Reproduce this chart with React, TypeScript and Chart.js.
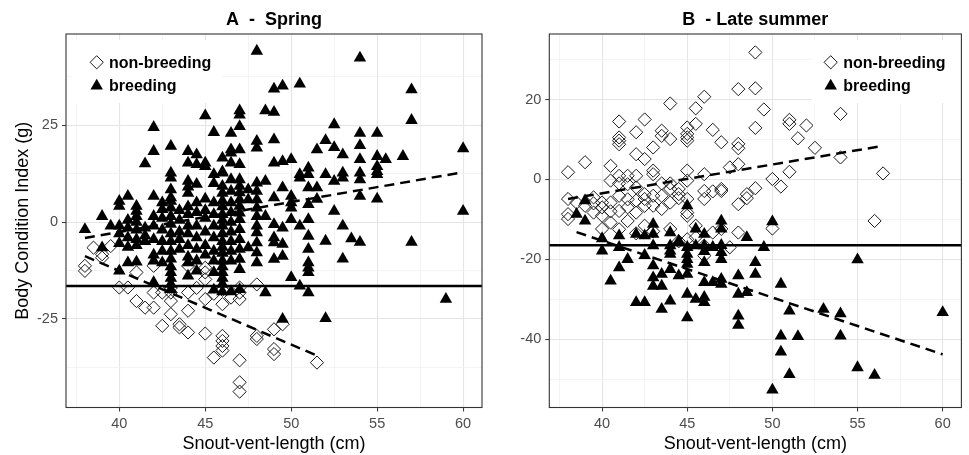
import React, { useEffect, useRef } from 'react';
import { Chart, registerables } from 'chart.js';

Chart.register(...registerables);

const FONT = '"Liberation Sans", Arial, Helvetica, sans-serif';
const H = 455;

// ---------------- data ----------------
const panelTitles = ['A  -  Spring', 'B  - Late summer'];
const legendLabels = ['non-breeding', 'breeding'];
const xTitle = 'Snout-vent-length (cm)';
const yTitle = 'Body Condition Index (g)';

const xMajorTicks = [40, 45, 50, 55, 60];
const springYMajorTicks = [-25, 0, 25];
const summerYMajorTicks = [-40, -20, 0, 20];
const xRange = [36.9, 61.1];
const springYRange = [-47.9, 48.6];
const summerYRange = [-57.1, 36.4];
const thresholdValue = -16.5;

const springNonBreeding: [number, number][] = [
  [38, -11.3], [38, -12.6], [38.5, -6.6], [39, -8.3], [39, -9.2], [39.5, -6.2], [40, -16.9], [40.5, -16.9],
  [41, -13.0], [41, -20.4], [41.5, -22.1], [42, -11.3], [42, -18.2], [42, -22.1], [42.5, -18.2], [42.5, -26.8],
  [43, -18.2], [43, -20.4], [43, -23.8], [43.5, -26.4], [43.5, -27.2], [44, -11.3], [44, -18.2], [44, -22.9],
  [44, -28.5], [45, -11.8], [45, -13.0], [45, -14.8], [45, -19.9], [45, -28.8], [45.5, -35.0], [46, -21.2],
  [46, -29.4], [46, -30.7], [46, -32.0], [46, -33.2], [46.5, -19.5], [47, -16.9], [47, -18.2], [47, -19.9],
  [47, -35.7], [47, -41.4], [47, -43.8], [48, -16.1], [48, -29.4], [48, -30.2], [49, -27.7], [49, -32.8],
  [49, -34.1], [49.5, -26.4], [51.5, -36.3], [43, -17], [44.5, -17], [45.5, -18.5], [46, -17.5],
];

const springBreeding: [number, number][] = [
  [48, 44.2], [54, 42.4], [49, 34.4], [49.5, 35.2], [50.5, 35.7], [57, 34.2], [57, 26.3], [48.5, 28.8],
  [49, 28.4], [47, 28.8], [47, 27.7], [45, 27.5], [47, 24.7], [42, 24.5], [45.5, 23.2], [46.5, 23.0],
  [52.5, 25.2], [54, 23.0], [54, 19.8], [55, 23.0], [48, 20.9], [48, 19.2], [49, 21.3], [52, 21.1],
  [52.5, 19.3], [53, 17.4], [60, 19.0], [60, 2.8], [43, 19.6], [42, 18.3], [41.5, 15.1], [44, 18.3],
  [44.5, 17.4], [44, 15.3], [44.5, 14.9], [45, 15.3], [46.5, 18.7], [47, 18.7], [46.5, 17.9], [46, 16.6],
  [46.5, 15.3], [47, 14.9], [51.5, 18.7], [56.5, 17.0], [55.5, 16.2], [54, 16.2], [54, 12.7], [55, 17.0],
  [55, 14.4], [55, 13.1], [55, 12.3], [55, 6.0], [50, 16.2], [49.5, 15.7], [49, 15.3], [51, 14.0],
  [51, 12.3], [50.5, 12.3], [50.5, 11.4], [52, 12.3], [52.5, 10.6], [53, 12.7], [53, 11.4], [54, 11.0],
  [51.5, 8.9], [51, 8.9], [49.5, 8.9], [49, 6.3], [50, 6.7], [50, 5.0], [50, 3.7], [51, 4.6],
  [51.5, 5.9], [52.5, 2.8], [54, 6.7], [51, 0.7], [50, 0.7], [50.5, -1.0], [49, -0.6], [49.5, -1.5],
  [53, -1.0], [52, -4.9], [53.5, -4.3], [54, -5.2], [57, -5.2], [53, -9.5], [50, -14.3], [50.5, -16.5],
  [51, -18.2], [51, -3.6], [51, -7.0], [51, -10.5], [51, -11.8], [51, -13.0], [49, -4.0], [49, -5.3],
  [49.5, -5.7], [49, -9.6], [49.5, -8.8], [48.5, 1.5], [48.5, -18.2], [52, -24.9], [49.5, -25.1], [59, -19.9],
  [45, 14.4], [45.5, 12.3], [46, 12.7], [46.5, 11.0], [47, 11.0], [48, 10.1], [48.5, 10.6], [43, 12.7],
  [43, 11.4], [43, 8.4], [43, 6.3], [42, 6.7], [44, 10.6], [44.5, 9.8], [44, 9.1], [44, 7.5],
  [46, 9.3], [47, 9.3], [47.5, 8.4],
  [40, 5.4], [40.5, 6.7], [40, 4.1], [41, 4.1], [41, 2.8], [41, 1.5], [42.5, 5.0], [42.5, 3.3],
  [43, 5.4], [43, 3.7], [39, 1.5], [38, -1.9], [39.5, -1.0], [40, -1.0], [39, -6.6], [40.5, -10.5],
  [40, -12.6], [42, -15.6], [44, -13.9], [44.5, -12.6],
  [40, -3], [40, -5.5], [40.5, -1.5], [40.5, -4], [40.5, -6.5], [40.5, 0.5], [41, 0], [41, -2],
  [41, -4.5], [41, -6], [41, -10.3], [41.5, -1.5], [41.5, -3.5], [41.5, -5], [42, 1.5], [42, -1],
  [42, -4.5], [42, -8.5], [42, -10], [42.5, 1], [42.5, -2], [42.5, -5], [42.5, -7.5], [42.5, -10.5],
  [43, 1.5], [43, -0.5], [43, -3], [43, -5], [43, -7.5], [43, -9.5], [43, -11.5], [43, -13],
  [43, -14.5], [43, -16], [43, -17.4], [43.5, 3], [43.5, 0.5], [43.5, -2.5], [43.5, -4.5], [43.5, -7],
  [44, 4], [44, 2], [44, -1], [44, -3], [44, -6], [44, -9], [44, -10.5], [44.5, 5],
  [44.5, 2.5], [44.5, -1], [44.5, -4], [44.5, -7], [44.5, -10], [45, 6], [45, 3], [45, 1],
  [45, -2.5], [45, -6], [45, -8.5], [45.5, 10], [45.5, 5], [45.5, 2], [45.5, -1], [45.5, -4],
  [45.5, -7.5], [45.5, -10], [45.5, -13], [45.5, -17.5], [46, 13], [46, 7.5], [46, 5.5], [46, 4],
  [46, 2], [46, 0.5], [46, -1], [46, -3], [46, -5], [46, -6.5], [46, -8], [46, -10],
  [46, -11.5], [46, -13], [46, -14.5], [46, -16], [46, -18], [46.5, 8], [46.5, 5], [46.5, 2.5],
  [46.5, 0], [46.5, -2.5], [46.5, -5], [46.5, -7.5], [46.5, -10], [46.5, -18], [47, 7.6], [47, 5.8],
  [47, 4.1], [47, 2.4], [47, 0.7], [47, -1.9], [47, -4.5], [47, -7.0], [47, -9.6], [47, -12.2],
  [47, -17.4], [47.5, 5.8], [47.5, -6.6], [48, 8.0], [48, 5.8], [48, 3.7], [48, 1.5], [48, -1.0],
  [48, -2.7], [48, -5.3], [48, -7.9], [48, -10.5],
];

const springNonBreedingFit: [number, number][] = [[38, -8.8], [51.5, -34.5]];
const springBreedingFit: [number, number][] = [[38, -4.1], [60, 12.9]];

const summerNonBreeding: [number, number][] = [
  [49, 31.8], [48, 22.6], [49, 22.8], [46, 20.7], [44, 19.0], [45.5, 17.8], [45.5, 13.9], [49.5, 17.5],
  [54, 16.4], [41, 14.5], [42.5, 15.0], [42, 11.8], [43.5, 12.2], [43.5, 10.9], [44, 10.1], [45, 13.0],
  [45, 11.4], [45, 10.5], [45, 9.7], [46.5, 12.4], [41, 10.5], [41, 9.7], [41, 8.8], [43, 8.0],
  [47, 9.3], [48, 8.9], [48, 7.8], [49, 12.9], [51, 14.9], [51, 13.9], [51.5, 10.3], [52, 13.5],
  [52.5, 7.9], [54, 5.5], [56.5, 1.5], [56, -10.4], [51, 1.9], [50, 0.1], [50.5, -1.8], [50, -12.3],
  [49, -2.2], [48.5, -3.7], [48.5, -4.7], [48, 3.8], [48, -6.2], [48, -13.3], [47.5, 3.0], [47, -2.4],
  [47, -2.9], [47.5, -17.0], [46, 1.3], [46, -2.9], [46, -4.9], [46.5, -13.3], [45, 2.2], [45, -0.3],
  [45, -4.9], [45, -8.3], [45, -9.1], [45, -15.0], [44.5, -2.4], [44.5, -3.7], [44.5, -4.7], [44, -2.4],
  [44, -5.8], [44, -12.4], [43.5, -4.1], [43.5, -7.4], [43, 2.2], [43, 1.3], [43, -4.1], [43, -6.6],
  [42.5, 5.1], [42.5, -3.7], [42.5, -4.9], [42.5, -6.6], [42.5, -11.6], [42, 6.3], [42, 0.9], [42, -5.3],
  [42, -8.3], [41.5, 0.9], [41.5, -1.2], [41.5, -7.0], [41.5, -10.4], [41, 0.9], [41, -4.1], [41, -7.9],
  [40.5, 3.4], [40.5, -0.3], [40.5, -5.8], [40.5, -10.8], [40, -5.8], [40, -9.1], [40, -12.4], [39.5, -4.5],
  [39.5, -8.3], [39, 4.3], [39, -6.6], [38.5, -5.8], [38, 1.8], [38, -4.9], [38, -8.7], [38, -9.9],
  [45.5, -11.6], [45.5, -14.5], [46, -16.6], [46, -19.1], [47, -12.4], [41, -12.5], [40, -7.0], [39.5, -6],
  [41.5, -5], [42, -2], [43.5, -1], [44, -1], [46.5, -3], [41, -1], [40.5, -8], [42, -13.5],
  [43, -13], [44.5, -15.5],
];

const summerBreeding: [number, number][] = [
  [39, -5.3], [39, -10.4], [38.5, -8.7], [45, -6.6], [47, -10.4], [47, -12.4], [50, -10.6], [40, -14.8],
  [40, -17.9], [41, -14.1], [41, -17.0], [41, -22.1], [41.5, -20.0], [40.5, -25.4], [42, -13.7], [42, -30.8],
  [42.5, -14.1], [42.5, -19.0], [42.5, -30.8], [43, -11.2], [43, -13.7], [43, -16.6], [43, -21.6], [43, -24.6],
  [43, -26.7], [43.5, -23.7], [43.5, -26.7], [43.5, -32.5], [44, -13.3], [44, -16.6], [44, -17.9], [44, -18.7],
  [44, -22.5], [44, -30.4], [44.5, -15.4], [44.5, -24.1], [45, -18.7], [45, -20.0], [45, -21.2], [45, -23.7],
  [45, -28.7], [45, -34.6], [45.5, -12.4], [45.5, -16.6], [45.5, -30.0], [46, -13.7], [46, -16.6], [46, -20.8],
  [46, -25.8], [46, -30.8], [46.5, -17.0], [46.5, -25.8], [47, -18.3], [47, -20.0], [47, -25.0], [47, -26.2],
  [48, -24.1], [48, -28.7], [48, -34.2], [48, -36.5], [48.5, -14.5], [48.5, -28.3], [49, -20.8], [49, -23.7],
  [49.5, -17.0], [50.5, -26.2], [50.5, -39.2], [50.5, -43.2], [51, -32.9], [51, -48.8], [51.5, -39.3], [50, -52.7],
  [53, -32.5], [54, -33.6], [54, -39.2], [55, -20.1], [55, -47.1], [56, -49.0], [60, -33.3], [46, -18],
  [47, -16.5], [45, -17], [46, -29.5],
];

const summerNonBreedingFit: [number, number][] = [[38, -4.9], [56.5, 8.4]];
const summerBreedingFit: [number, number][] = [[38.5, -13.2], [60, -43.8]];

// ---------------- helpers ----------------
const toPts = (arr: [number, number][]) => arr.map(([x, y]) => ({ x, y }));

function withMinor(majors: number[], range: number[]) {
  const step = majors[1] - majors[0];
  const out: number[] = [];
  for (let v = majors[0] - step / 2; v <= range[1] + 1e-9; v += step / 2) {
    if (v >= range[0] - 1e-9) out.push(Math.round(v * 1000) / 1000);
  }
  return out;
}
const isMajor = (v: number, majors: number[]) => majors.some((m) => Math.abs(m - v) < 1e-6);

type Area = { left: number; right: number; top: number; bottom: number };
type PanelCfg = {
  offset: number;
  width: number;
  area: Area;
  title: string;
  yTitle?: string;
  yMajor: number[];
  yRange: number[];
  nonBreeding: [number, number][];
  breeding: [number, number][];
  nonBreedingFit: [number, number][];
  breedingFit: [number, number][];
  legend: { boxX: number; boxY: number; boxW: number; boxH: number; markerX: number; textX: number; rows: number[] };
};

const panels: PanelCfg[] = [
  {
    offset: 0,
    width: 490,
    area: { left: 66, right: 482, top: 34, bottom: 407.5 },
    title: panelTitles[0],
    yTitle,
    yMajor: springYMajorTicks,
    yRange: springYRange,
    nonBreeding: springNonBreeding,
    breeding: springBreeding,
    nonBreedingFit: springNonBreedingFit,
    breedingFit: springBreedingFit,
    legend: { boxX: 72, boxY: 40, boxW: 150, boxH: 63, markerX: 96.7, textX: 109, rows: [62.3, 86] },
  },
  {
    offset: 490,
    width: 479,
    area: { left: 59.3, right: 476, top: 34, bottom: 407.5 },
    title: panelTitles[1],
    yMajor: summerYMajorTicks,
    yRange: summerYRange,
    nonBreeding: summerNonBreeding,
    breeding: summerBreeding,
    nonBreedingFit: summerNonBreedingFit,
    breedingFit: summerBreedingFit,
    legend: { boxX: 322, boxY: 40, boxW: 151, boxH: 63, markerX: 340.7, textX: 353.3, rows: [62.3, 86] },
  },
];

const DIAMOND_R = 6.6;
const TRI_R = 7.2;

function drawDiamond(ctx: CanvasRenderingContext2D, x: number, y: number, r: number) {
  ctx.beginPath();
  ctx.moveTo(x - r, y);
  ctx.lineTo(x, y - r);
  ctx.lineTo(x + r, y);
  ctx.lineTo(x, y + r);
  ctx.closePath();
  ctx.strokeStyle = '#1a1a1a';
  ctx.lineWidth = 1;
  ctx.stroke();
}
function drawTriangle(ctx: CanvasRenderingContext2D, x: number, y: number, r: number) {
  ctx.beginPath();
  for (let i = 0; i < 3; i++) {
    const a = (i * 2 * Math.PI) / 3;
    const px = x + Math.sin(a) * r;
    const py = y - Math.cos(a) * r;
    if (i === 0) ctx.moveTo(px, py);
    else ctx.lineTo(px, py);
  }
  ctx.closePath();
  ctx.fillStyle = '#000';
  ctx.fill();
}

function Panel({ cfg }: { cfg: PanelCfg }) {
  const ref = useRef<HTMLCanvasElement>(null);
  useEffect(() => {
    const a = cfg.area;
    const decor = {
      id: 'decor' + cfg.offset,
      afterDatasetsDraw(chart: any) {
        const { ctx, chartArea: ca, scales } = chart;
        ctx.save();
        // threshold line
        const ty = scales.y.getPixelForValue(thresholdValue);
        ctx.beginPath();
        ctx.moveTo(ca.left, ty);
        ctx.lineTo(ca.right, ty);
        ctx.strokeStyle = '#000';
        ctx.lineWidth = 2.4;
        ctx.stroke();
        // legend
        const L = cfg.legend;
        ctx.fillStyle = '#fff';
        ctx.fillRect(L.boxX, L.boxY, L.boxW, L.boxH);
        drawDiamond(ctx, L.markerX, L.rows[0], DIAMOND_R);
        drawTriangle(ctx, L.markerX, L.rows[1], TRI_R);
        ctx.fillStyle = '#000';
        ctx.font = `bold 16px ${FONT}`;
        ctx.textAlign = 'left';
        ctx.textBaseline = 'middle';
        ctx.fillText(legendLabels[0], L.textX, L.rows[0] + 1);
        ctx.fillText(legendLabels[1], L.textX, L.rows[1] + 1);
        // panel border
        ctx.strokeStyle = '#333333';
        ctx.lineWidth = 1.1;
        ctx.strokeRect(ca.left, ca.top, ca.right - ca.left, ca.bottom - ca.top);
        // title
        ctx.font = `bold 18px ${FONT}`;
        ctx.textAlign = 'center';
        ctx.textBaseline = 'middle';
        ctx.fillStyle = '#000';
        ctx.fillText(cfg.title, (ca.left + ca.right) / 2, 20.5);
        ctx.restore();
      },
    };

    const gridColor = (ctx: any, majors: number[]) =>
      ctx.tick && isMajor(ctx.tick.value, majors) ? '#E5E5E5' : '#EFEFEF';
    const gridWidth = (ctx: any, majors: number[]) =>
      ctx.tick && isMajor(ctx.tick.value, majors) ? 1.1 : 0.7;
    const tickColor = (ctx: any, majors: number[]) =>
      ctx.tick && isMajor(ctx.tick.value, majors) ? '#333333' : 'rgba(0,0,0,0)';

    const chart = new Chart(ref.current!, {
      type: 'scatter',
      data: {
        datasets: [
          {
            label: 'nb-fit',
            data: toPts(cfg.nonBreedingFit),
            showLine: true,
            pointRadius: 0,
            borderColor: '#000',
            borderWidth: 2.5,
            borderDash: [10, 6],
            order: 1,
          } as any,
          {
            label: 'b-fit',
            data: toPts(cfg.breedingFit),
            showLine: true,
            pointRadius: 0,
            borderColor: '#000',
            borderWidth: 2.5,
            borderDash: [10, 6],
            order: 1,
          },
          {
            label: legendLabels[1],
            data: toPts(cfg.breeding),
            pointStyle: 'triangle',
            pointRadius: TRI_R,
            backgroundColor: '#000',
            borderColor: '#000',
            pointBorderWidth: 0,
            order: 2,
          },
          {
            label: legendLabels[0],
            data: toPts(cfg.nonBreeding),
            pointStyle: 'rectRot',
            pointRadius: DIAMOND_R,
            backgroundColor: 'rgba(0,0,0,0)',
            borderColor: '#1a1a1a',
            pointBorderWidth: 1,
            order: 3,
          },
        ],
      },
      options: {
        responsive: false,
        animation: false,
        devicePixelRatio: 1,
        layout: { padding: { left: 0, top: a.top, right: cfg.width - a.right, bottom: 0 } },
        plugins: { legend: { display: false }, tooltip: { enabled: false }, title: { display: false } },
        scales: {
          x: {
            type: 'linear',
            min: xRange[0],
            max: xRange[1],
            afterBuildTicks: (s: any) => {
              s.ticks = withMinor(xMajorTicks, xRange).map((v) => ({ value: v }));
            },
            afterFit: (s: any) => {
              s.height = H - a.bottom;
              s.paddingLeft = 0;
              s.paddingRight = 0;
            },
            ticks: {
              autoSkip: false,
              maxRotation: 0,
              padding: 4,
              color: '#4D4D4D',
              font: { family: FONT, size: 14.5 },
              callback: (v: any) => (isMajor(Number(v), xMajorTicks) ? String(v) : ''),
            },
            grid: {
              color: (c: any) => gridColor(c, xMajorTicks),
              lineWidth: (c: any) => gridWidth(c, xMajorTicks),
              drawTicks: true,
              tickLength: 4,
              tickColor: (c: any) => tickColor(c, xMajorTicks),
              tickWidth: 1,
            },
            border: { display: false },
            title: {
              display: true,
              text: xTitle,
              color: '#000',
              font: { family: FONT, size: 18 },
              padding: { top: 0, bottom: 0 },
            },
          },
          y: {
            type: 'linear',
            min: cfg.yRange[0],
            max: cfg.yRange[1],
            afterBuildTicks: (s: any) => {
              s.ticks = withMinor(cfg.yMajor, cfg.yRange).map((v) => ({ value: v }));
            },
            afterFit: (s: any) => {
              s.width = a.left;
              s.paddingTop = 0;
              s.paddingBottom = 0;
            },
            ticks: {
              autoSkip: false,
              padding: 4,
              color: '#4D4D4D',
              font: { family: FONT, size: 14.5 },
              callback: (v: any) => (isMajor(Number(v), cfg.yMajor) ? String(v) : ''),
            },
            grid: {
              color: (c: any) => gridColor(c, cfg.yMajor),
              lineWidth: (c: any) => gridWidth(c, cfg.yMajor),
              drawTicks: true,
              tickLength: 4,
              tickColor: (c: any) => tickColor(c, cfg.yMajor),
              tickWidth: 1,
            },
            border: { display: false },
            title: {
              display: !!cfg.yTitle,
              text: cfg.yTitle || '',
              color: '#000',
              font: { family: FONT, size: 18 },
              padding: { top: 12.5, bottom: 0 },
            },
          },
        },
      },
      plugins: [decor],
    });
    return () => chart.destroy();
  }, [cfg]);

  return (
    <canvas
      ref={ref}
      width={cfg.width}
      height={H}
      style={{ position: 'absolute', left: cfg.offset, top: 0, width: cfg.width, height: H }}
    />
  );
}

export default function App() {
  return (
    <div style={{ position: 'fixed', left: 0, top: 0, width: 969, height: H, background: '#fff', overflow: 'hidden' }}>
      {panels.map((p) => (
        <Panel key={p.offset} cfg={p} />
      ))}
    </div>
  );
}
